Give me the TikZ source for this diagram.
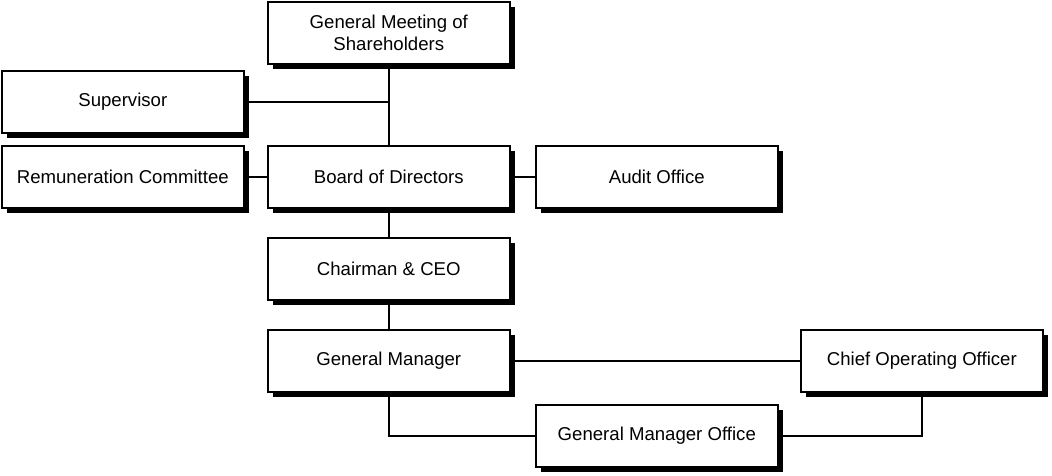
\documentclass[tikz,border=0pt]{standalone}
\usepackage{fontspec}
\setmainfont{Liberation Sans}
\usetikzlibrary{shadows}
\begin{document}
\begin{tikzpicture}[x=1pt,y=-1pt,
  box/.style={draw=black, line width=1.6pt, fill=white, minimum width=242pt, minimum height=62pt,
    anchor=north west, align=center, inner sep=2pt, font=\fontsize{18.6}{22}\selectfont,
    drop shadow={shadow xshift=5.5pt, shadow yshift=-5.5pt, fill=black, opacity=1}},
  link/.style={draw=black, line width=1.6pt}]
\useasboundingbox (0,0) rectangle (1052,475);
\node[box] (gms) at (267,1) {General Meeting of\\Shareholders};
\node[box] (sup) at (1,70) {Supervisor};
\node[box] (rem) at (1,145) {Remuneration Committee};
\node[box] (bod) at (267,145) {Board of Directors};
\node[box] (aud) at (535,145) {Audit Office};
\node[box] (ceo) at (267,237) {Chairman \& CEO};
\node[box] (gm) at (267,329) {General Manager};
\node[box] (coo) at (800,329) {Chief Operating Officer};
\node[box] (gmo) at (535,404) {General Manager Office};
\draw[link] (gms.south) -- (bod.north);
\draw[link] (sup.east) -- (sup.east -| gms.south);
\draw[link] (rem.east) -- (bod.west);
\draw[link] (bod.east) -- (aud.west);
\draw[link] (bod.south) -- (ceo.north);
\draw[link] (ceo.south) -- (gm.north);
\draw[link] (gm.east) -- (gm.east -| coo.west);
\draw[link] (gm.south) |- (gmo.west);
\draw[link] (gmo.east) -| (coo.south);
\end{tikzpicture}
\end{document}
